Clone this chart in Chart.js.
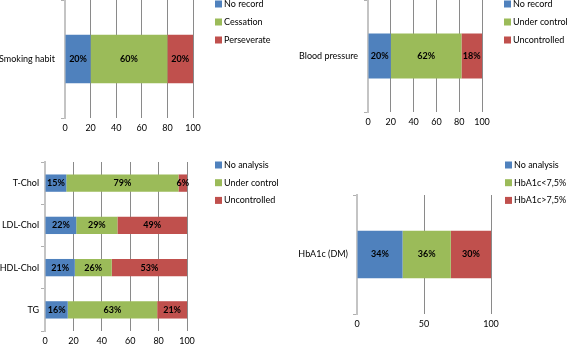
<!DOCTYPE html>
<html>
<head>
<meta charset="utf-8">
<script src="https://cdn.jsdelivr.net/npm/chart.js@4.4.0/dist/chart.umd.min.js"></script>
<style>
  html, body { margin: 0; padding: 0; background: #fff; }
  #wrap { position: relative; width: 567px; height: 346px; overflow: hidden; }
  #wrap canvas { position: absolute; left: 0; top: 0; }
</style>
</head>
<body>
<div id="wrap">
  <canvas id="smoking" width="567" height="346"></canvas>
  <canvas id="pressure" width="567" height="346"></canvas>
  <canvas id="lipids" width="567" height="346"></canvas>
  <canvas id="hba1c" width="567" height="346"></canvas>
</div>
<script>
const FONT = 'Lato';
const FSIZE = 9;
const blue = '#4f81bd', green = '#9bbb59', red = '#c0504d';

// smoking habit
const smokingCats = ['Smoking habit'];
const smokingLabels = ['No record', 'Cessation', 'Perseverate'];
const smokingNoRecord = [20];
const smokingCessation = [60];
const smokingPersevere = [20];

// blood pressure
const bpCats = ['Blood pressure'];
const bpLabels = ['No record', 'Under control', 'Uncontrolled'];
const bpNoRecord = [20];
const bpControlled = [62];
const bpUncontrolled = [18];

// lipids
const lipidCats = ['T-Chol', 'LDL-Chol', 'HDL-Chol', 'TG'];
const lipidLabels = ['No analysis', 'Under control', 'Uncontrolled'];
const lipidNoAnalysis = [15, 22, 21, 16];
const lipidControlled = [79, 29, 26, 63];
const lipidUncontrolled = [6, 49, 53, 21];

// HbA1c
const hbCats = ['HbA1c (DM)'];
const hbLabels = ['No analysis', 'HbA1c<7,5%', 'HbA1c>7,5%'];
const hbNoAnalysis = [34];
const hbLow = [36];
const hbHigh = [30];

// percent text inside each bar segment
const pctLabels = {
    id: 'pctLabels',
    afterDatasetsDraw(chart) {
        const ctx = chart.ctx;
        ctx.save();
        ctx.font = 'bold ' + FSIZE + 'px ' + FONT;
        ctx.fillStyle = '#000';
        ctx.textAlign = 'center';
        ctx.textBaseline = 'middle';
        chart.data.datasets.forEach((ds, i) => {
            chart.getDatasetMeta(i).data.forEach((bar, j) => {
                ctx.fillText(ds.data[j] + '%', (bar.x + bar.base) / 2, bar.y);
            });
        });
        ctx.restore();
    }
};

// small legend to the right, like excel does it
const sideLegend = {
    id: 'sideLegend',
    afterDraw(chart, args, opts) {
        const ctx = chart.ctx;
        ctx.save();
        ctx.font = FSIZE + 'px ' + FONT;
        ctx.textBaseline = 'middle';
        chart.data.datasets.forEach((ds, i) => {
            const y = opts.y + i * opts.gap;
            ctx.fillStyle = ds.backgroundColor;
            ctx.fillRect(opts.x, y - 3.5, 7, 7);
            ctx.fillStyle = '#000';
            ctx.fillText(ds.label, opts.x + 9, y);
        });
        ctx.restore();
    }
};

function makeChart(id, cats, labels, series, area, step, legend) {
    const colors = [blue, green, red];
    new Chart(document.getElementById(id), {
        type: 'bar',
        data: {
            labels: cats,
            datasets: series.map((d, i) => ({
                label: labels[i],
                data: d,
                backgroundColor: colors[i],
                barPercentage: area.bar,
                categoryPercentage: 1
            }))
        },
        options: {
            indexAxis: 'y',
            responsive: false,
            animation: false,
            layout: {
                padding: { left: 0, top: area.top, right: 567 - area.right, bottom: 346 - area.bottom - 20 }
            },
            scales: {
                x: {
                    stacked: true,
                    min: 0,
                    max: 100,
                    afterFit: s => { s.height = 20; },
                    border: { display: false },
                    grid: { color: '#8a8a8a', drawTicks: false },
                    ticks: {
                        stepSize: step, padding: 5, maxRotation: 0, autoSkip: false,
                        color: '#000', font: { family: FONT, size: FSIZE }
                    }
                },
                y: {
                    stacked: true,
                    afterFit: s => { s.width = area.left; s.paddingTop = 0; s.paddingBottom = 0; },
                    border: { color: '#c4c4c4', width: 2 },
                    grid: { drawOnChartArea: false, offset: true, tickLength: 4, color: '#b0b0b0' },
                    ticks: { padding: area.gap, color: '#000', font: { family: FONT, size: FSIZE } }
                }
            },
            plugins: {
                legend: { display: false },
                tooltip: { enabled: false },
                sideLegend: legend
            }
        },
        plugins: [pctLabels, sideLegend]
    });
}

makeChart('smoking', smokingCats, smokingLabels,
    [smokingNoRecord, smokingCessation, smokingPersevere],
    { left: 65, right: 193, top: 0, bottom: 118, bar: 0.41, gap: 6 }, 20,
    { x: 215, y: 4, gap: 18 });

makeChart('pressure', bpCats, bpLabels,
    [bpNoRecord, bpControlled, bpUncontrolled],
    { left: 368, right: 482, top: 0, bottom: 112, bar: 0.40, gap: 6 }, 20,
    { x: 504, y: 4, gap: 18 });

makeChart('lipids', lipidCats, lipidLabels,
    [lipidNoAnalysis, lipidControlled, lipidUncontrolled],
    { left: 45, right: 187, top: 162, bottom: 331, bar: 0.41, gap: 2 }, 20,
    { x: 215, y: 165, gap: 17.7 });

makeChart('hba1c', hbCats, hbLabels,
    [hbNoAnalysis, hbLow, hbHigh],
    { left: 357, right: 491, top: 195, bottom: 314, bar: 0.40, gap: 5 }, 50,
    { x: 505, y: 165, gap: 17.7 });
</script>
</body>
</html>
